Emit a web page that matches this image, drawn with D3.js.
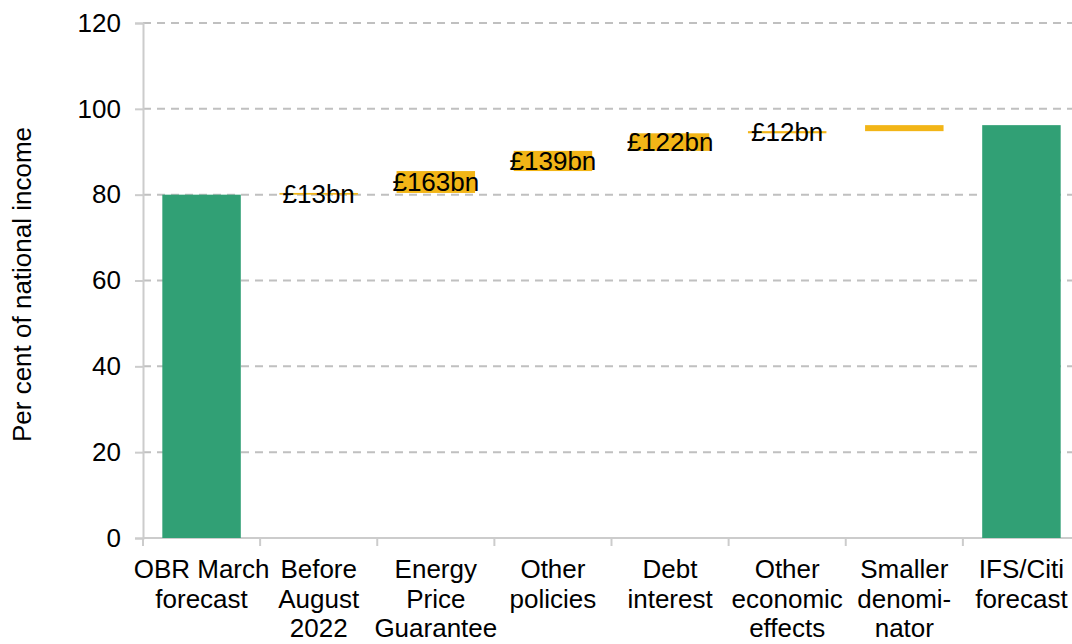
<!DOCTYPE html>
<html>
<head>
<meta charset="utf-8">
<script src="https://cdn.jsdelivr.net/npm/d3@7"></script>
<style>
  html, body { margin: 0; padding: 0; background: #fff; }
  svg { display: block; }
  text { font-family: "Liberation Sans", Arial, sans-serif; fill: #000; }
</style>
</head>
<body>
<svg id="chart" width="1072" height="644"></svg>
<script>
const categories = ["OBR March forecast", "Before August 2022", "Energy Price Guarantee", "Other policies", "Debt interest", "Other economic effects", "Smaller denominator", "IFS/Citi forecast"];
const categoryLines = [["OBR March", "forecast"], ["Before", "August", "2022"], ["Energy", "Price", "Guarantee"], ["Other", "policies"], ["Debt", "interest"], ["Other", "economic", "effects"], ["Smaller", "denomi-", "nator"], ["IFS/Citi", "forecast"]];
const barStart = [0, 80.0, 80.4, 85.5, 90.2, 94.3, 94.8, 0];
const barEnd = [80.0, 80.4, 85.5, 90.2, 94.3, 94.8, 96.2, 96.2];
const barType = ["total", "change", "change", "change", "change", "change", "change", "total"];
const barLabels = ["", "£13bn", "£163bn", "£139bn", "£122bn", "£12bn", "", ""];
const yTicks = [0, 20, 40, 60, 80, 100, 120];
const yTitle = "Per cent of national income";

const colors = { total: "#31a075", change: "#f2b517" };
const svg = d3.select("#chart");
const mLeft = 143, mRight = 1080, mTop = 23, mBottom = 538;
const FS = 26;

const x = d3.scaleBand().domain(categories).range([mLeft, mRight]).paddingInner(0.33).paddingOuter(0.165);
const y = d3.scaleLinear().domain([0, 120]).range([mBottom, mTop]);
const step = x.step();
const halfGap = (step - x.bandwidth()) / 2;

// gridlines
svg.append("g").selectAll("line").data(yTicks.filter(d => d > 0)).join("line")
  .attr("x1", mLeft).attr("x2", 1072)
  .attr("y1", d => y(d)).attr("y2", d => y(d))
  .attr("stroke", "#c0c0c0").attr("stroke-width", 2).attr("stroke-dasharray", "8,6");

// y axis
const yAxis = svg.append("g").attr("transform", `translate(${mLeft},0)`)
  .call(d3.axisLeft(y).tickValues(yTicks).tickSize(8).tickPadding(14).tickFormat(d3.format("d")));
yAxis.select(".domain").attr("stroke", "#cccccc").attr("stroke-width", 2);
yAxis.selectAll(".tick line").attr("stroke", "#cccccc").attr("stroke-width", 2);
yAxis.selectAll(".tick text").attr("font-size", FS).attr("font-family", "Liberation Sans, Arial, sans-serif").attr("fill", "#000");

// x axis line and ticks at band boundaries
svg.append("line").attr("x1", mLeft).attr("x2", 1072).attr("y1", mBottom).attr("y2", mBottom)
  .attr("stroke", "#cccccc").attr("stroke-width", 2);
svg.append("g").selectAll("line").data(categories).join("line")
  .attr("x1", d => x(d) - halfGap).attr("x2", d => x(d) - halfGap)
  .attr("y1", mBottom).attr("y2", mBottom + 8)
  .attr("stroke", "#cccccc").attr("stroke-width", 2);

// bars
svg.append("g").selectAll("rect").data(categories).join("rect")
  .attr("x", d => x(d))
  .attr("width", x.bandwidth())
  .attr("y", (d, i) => y(Math.max(barStart[i], barEnd[i])))
  .attr("height", (d, i) => Math.abs(y(barStart[i]) - y(barEnd[i])))
  .attr("fill", (d, i) => colors[barType[i]]);

// bar labels
svg.append("g").selectAll("text").data(categories).join("text")
  .attr("x", d => x(d) + x.bandwidth() / 2)
  .attr("y", (d, i) => y((barStart[i] + barEnd[i]) / 2))
  .attr("dy", "0.35em")
  .attr("text-anchor", "middle")
  .attr("font-size", FS)
  .text((d, i) => barLabels[i]);

// category labels
const catG = svg.append("g");
categories.forEach((c, i) => {
  const t = catG.append("text")
    .attr("x", x(c) + x.bandwidth() / 2)
    .attr("y", 578)
    .attr("text-anchor", "middle")
    .attr("font-size", FS);
  categoryLines[i].forEach((ln, j) => {
    t.append("tspan").attr("x", x(c) + x.bandwidth() / 2).attr("dy", j === 0 ? 0 : 29.5).text(ln);
  });
});

// y title
svg.append("text")
  .attr("transform", `translate(31,${(mTop + mBottom) / 2 + 4}) rotate(-90)`)
  .attr("text-anchor", "middle")
  .attr("font-size", FS)
  .text(yTitle);
</script>
</body>
</html>
